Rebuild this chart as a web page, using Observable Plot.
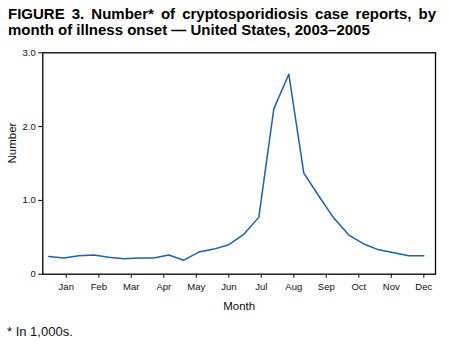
<!DOCTYPE html>
<html>
<head>
<meta charset="utf-8">
<script src="https://cdn.jsdelivr.net/npm/d3@7"></script>
<script src="https://cdn.jsdelivr.net/npm/@observablehq/plot@0.6"></script>
<style>
  html, body { margin: 0; padding: 0; background: #fff; }
  body { width: 449px; height: 346px; position: relative; overflow: hidden; font-family: "Liberation Sans", Arial, sans-serif; }
  .title { position: absolute; left: 8px; width: 428px; font-weight: bold; font-size: 15px; color: #000; white-space: nowrap; line-height: 17px; }
  #t1 { top: 5px; text-align: justify; text-align-last: justify; white-space: normal; }
  #t2 { top: 21px; }
  #chart { position: absolute; left: 0; top: 45px; }
  #foot { position: absolute; left: 7px; top: 324px; font-size: 13px; color: #111; }
</style>
</head>
<body>
<div class="title" id="t1">FIGURE 3. Number* of cryptosporidiosis case reports, by</div>
<div class="title" id="t2">month of illness onset — United States, 2003–2005</div>
<div id="chart"></div>
<div id="foot">* In 1,000s.</div>
<script>
// Two-week periods of the year (week number at end of each period)
const periodWeeks = [2, 4, 6, 8, 10, 12, 14, 16, 18, 20, 22, 24, 26, 28, 30, 32, 34, 36, 38, 40, 42, 44, 46, 48, 50, 52];
// Number of case reports (in 1,000s)
const caseReports = [0.24, 0.22, 0.25, 0.26, 0.23, 0.21, 0.22, 0.22, 0.26, 0.19, 0.30, 0.34, 0.40, 0.54, 0.77, 2.24, 2.71, 1.37, 1.06, 0.76, 0.53, 0.41, 0.33, 0.29, 0.25, 0.25];
// Month tick positions (in weeks) and labels
const monthTickWeeks = [4.33, 8.67, 13, 17.33, 21.67, 26, 30.33, 34.67, 39, 43.33, 47.67, 52];
const monthLabels = ["Jan", "Feb", "Mar", "Apr", "May", "Jun", "Jul", "Aug", "Sep", "Oct", "Nov", "Dec"];
const yTicks = [0, 1, 2, 3];
const yTickLabels = ["0", "1.0", "2.0", "3.0"];

const data = periodWeeks.map((w, i) => ({week: w, value: caseReports[i]}));

const chart = Plot.plot({
  width: 449,
  height: 275,
  marginLeft: 42.3,
  marginRight: 14,
  marginTop: 7.3,
  marginBottom: 46.3,
  style: {fontFamily: "'Liberation Sans', Arial, sans-serif", background: "#fff", color: "#111"},
  x: {domain: [1.2, 53.56]},
  y: {domain: [0, 3]},
  marks: [
    Plot.frame({stroke: "#000", strokeWidth: 1.3}),
    Plot.axisX({
      ticks: monthTickWeeks,
      tickFormat: (d, i) => monthLabels[i],
      tickSize: 4,
      tickPadding: 5,
      fontSize: 9.5,
      label: null,
      stroke: "#000"
    }),
    Plot.axisY({
      ticks: yTicks,
      tickFormat: (d, i) => yTickLabels[i],
      tickSize: 4,
      tickPadding: 3,
      fontSize: 9.5,
      label: null,
      stroke: "#000"
    }),
    Plot.text(["Number"], {frameAnchor: "left", dx: -30.3, rotate: -90, fontSize: 11.5, fill: "#111"}),
    Plot.text(["Month"], {frameAnchor: "bottom", dy: 35.6, fontSize: 11.5, fill: "#111"}),
    Plot.line(data, {x: "week", y: "value", stroke: "#1f62ad", strokeWidth: 1.5})
  ]
});
document.getElementById("chart").appendChild(chart);
</script>
</body>
</html>
